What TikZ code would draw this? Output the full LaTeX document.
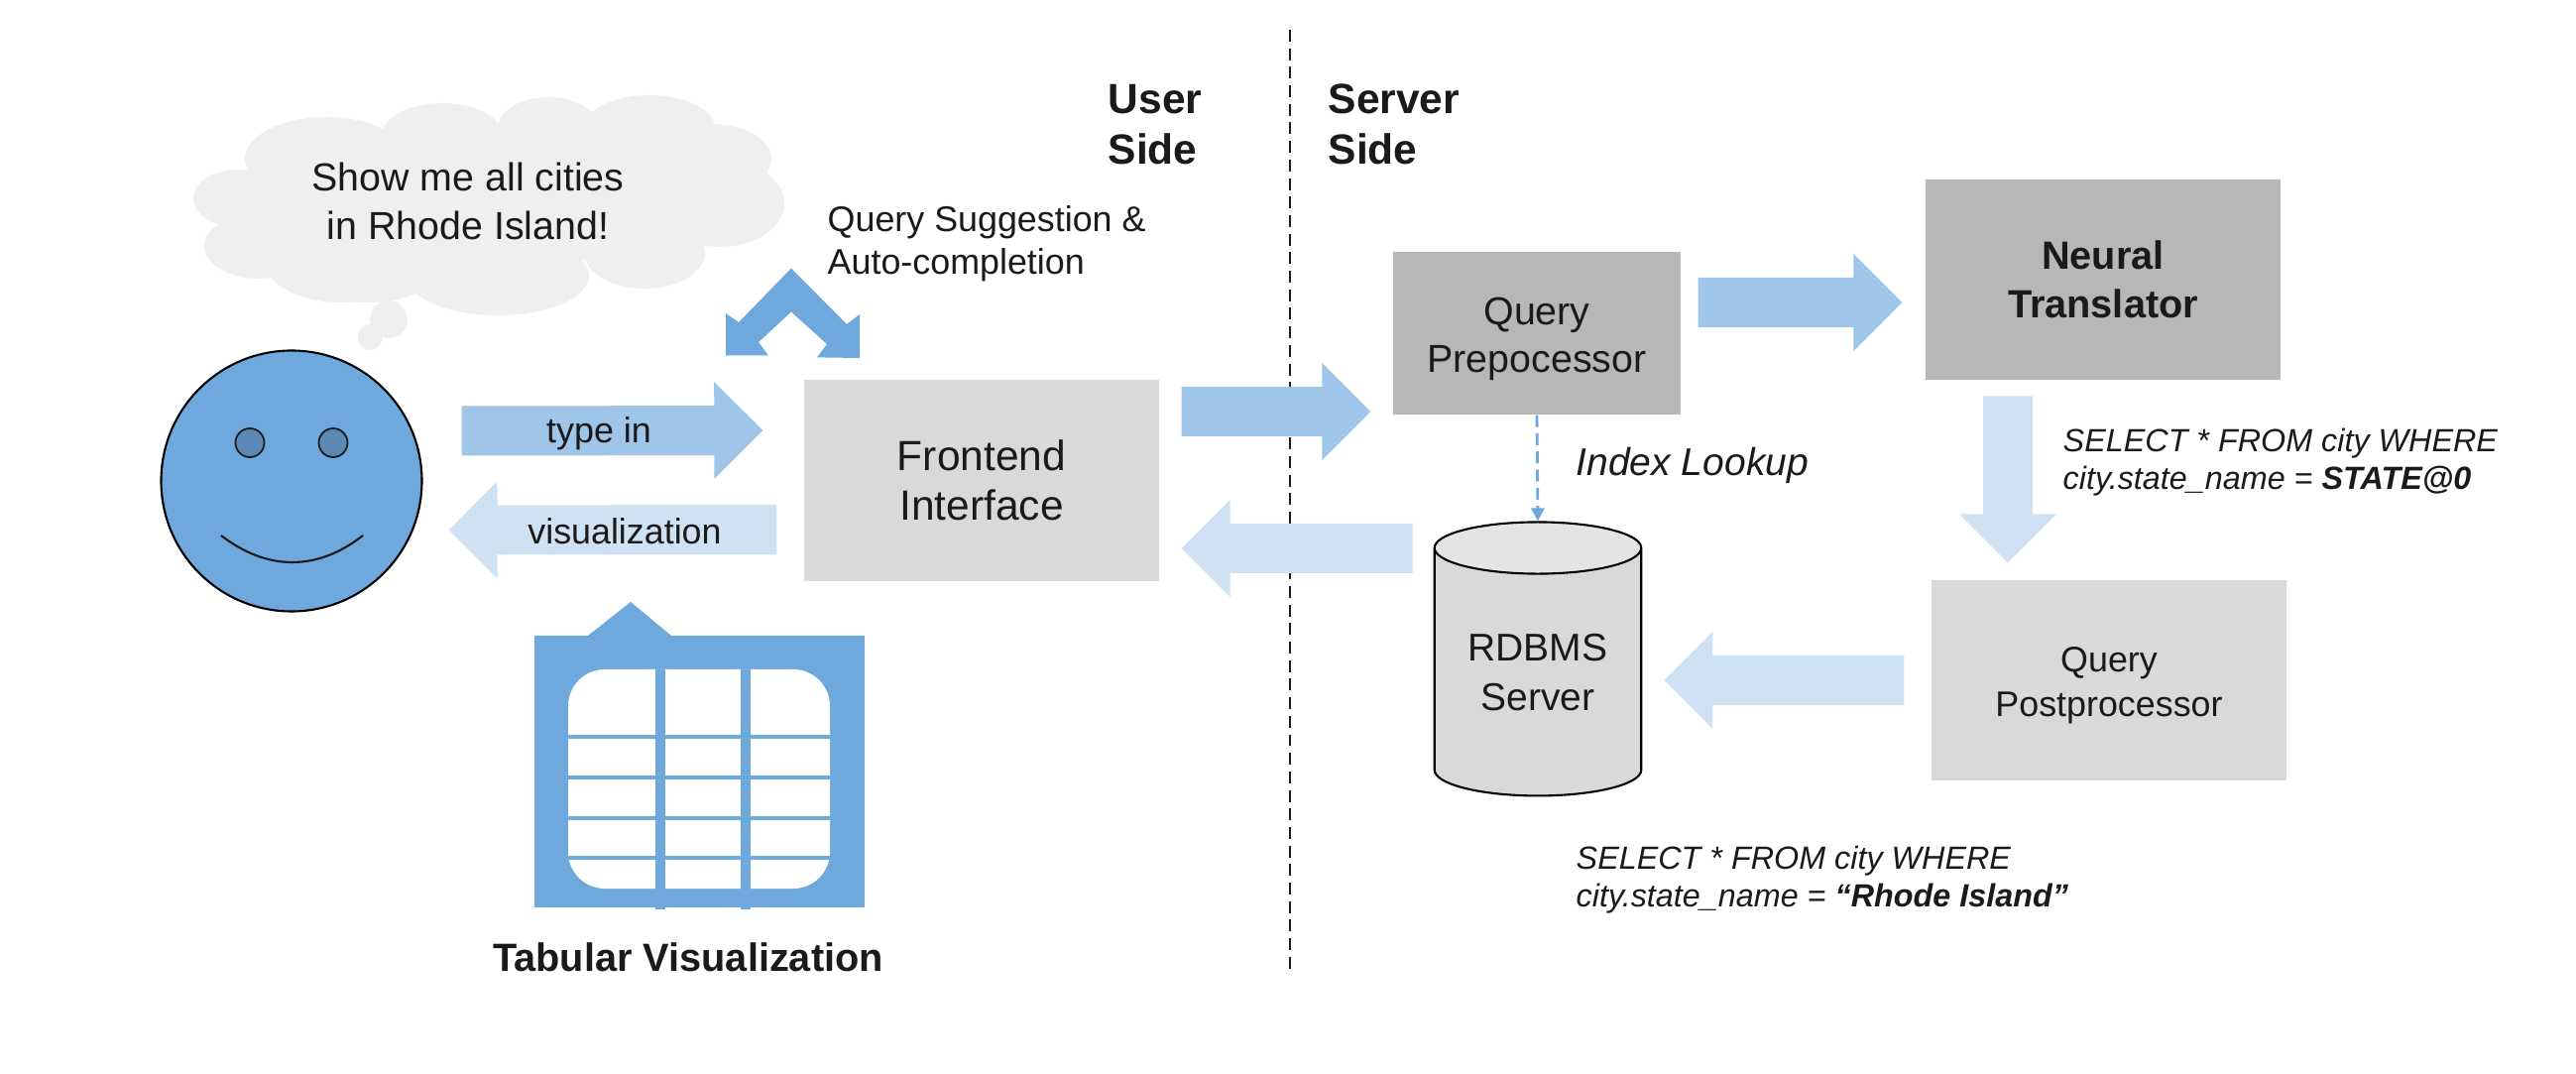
\documentclass[tikz,border=0pt]{standalone}
\usepackage{fontspec}
\setmainfont{Liberation Sans}
\usetikzlibrary{shapes,arrows.meta,positioning,calc}
\definecolor{faceblue}{HTML}{6FA8DC}
\definecolor{eyeblue}{HTML}{5B88B5}
\definecolor{midflow}{HTML}{9FC5E8}
\definecolor{paleflow}{HTML}{CFE2F3}
\definecolor{cloudgray}{HTML}{EFEFEF}
\definecolor{boxlight}{HTML}{D9D9D9}
\definecolor{boxdark}{HTML}{B7B7B7}
\definecolor{ink}{HTML}{1A1A1A}

\begin{document}
\begin{tikzpicture}[
    box/.style={rectangle, align=center, text=ink, inner sep=0pt},
    blockarrow/.style={to path={
        -- ($(\tikztostart)!.25cm!90:(\tikztotarget)$)
        -- ($($(\tikztotarget)!.49cm!(\tikztostart)$)!.25cm!90:(\tikztotarget)$)
        -- ($($(\tikztotarget)!.49cm!(\tikztostart)$)!.49cm!90:(\tikztotarget)$)
        -- (\tikztotarget)
        -- ($($(\tikztotarget)!.49cm!(\tikztostart)$)!.49cm!-90:(\tikztotarget)$)
        -- ($($(\tikztotarget)!.49cm!(\tikztostart)$)!.25cm!-90:(\tikztotarget)$)
        -- ($(\tikztostart)!.25cm!-90:(\tikztotarget)$) -- cycle}},
    lbl/.style={inner sep=0pt, text=ink, align=left, anchor=west},
    fnlarge/.style={font=\fontsize{12.1}{14.2}\selectfont},
    fnmid/.style={font=\fontsize{11.2}{13.7}\selectfont},
    fnsmall/.style={font=\fontsize{10.2}{12.2}\selectfont},
    fnsql/.style={font=\fontsize{9.2}{10.8}\selectfont\itshape}
]
\useasboundingbox (0,0) rectangle (25.98,10.82);

% Divider between the two sides
\coordinate (divTop) at (13.01,10.52);
\coordinate (divBottom) at (13.01,1.03);
\draw[ink, line width=.7pt, dash pattern=on 3.4pt off 1.92pt] (divTop) -- (divBottom);

% Thought cloud
\fill[cloudgray] (2.6,8.2) rectangle (7.0,9.4);
\foreach \cx/\cy/\rx/\ry in {3.29/9.22/.82/.42, 4.46/9.45/.61/.33, 5.53/9.53/.51/.31,
    6.55/9.53/.66/.33, 7.17/9.22/.61/.35, 7.27/8.77/.64/.44, 6.50/8.27/.61/.36,
    5.02/8.04/.92/.40, 3.44/8.19/.77/.42, 3.70/8.07/.70/.30, 2.62/8.34/.56/.33, 2.40/8.82/.45/.29,
    3.92/7.60/.19/.19, 3.73/7.42/.125/.13}
    \fill[cloudgray] (\cx,\cy) ellipse [x radius=\rx, y radius=\ry];
\node[box, fnmid] (thought) at (4.72,8.79) {Show me all cities\\in Rhode Island!};

% User
\node[circle, draw=black, line width=.6pt, fill=faceblue, minimum size=2.63cm, inner sep=0pt] (face) at (2.94,5.97) {};
\node[circle, draw=ink, line width=.5pt, fill=eyeblue, minimum size=.29cm, inner sep=0pt] (eyeL) at (2.52,6.355) {};
\node[circle, draw=ink, line width=.5pt, fill=eyeblue, minimum size=.29cm, inner sep=0pt] (eyeR) at (3.36,6.355) {};
\coordinate (smileL) at (2.23,5.42);
\coordinate (smileR) at (3.66,5.42);
\draw[ink, line width=.6pt] (smileL) .. controls (2.7,5.06) and (3.2,5.06) .. (smileR);

% Boxes
\node[box, fill=boxlight, fnlarge, minimum width=3.58cm, minimum height=2.03cm] (frontend) at (9.90,5.975) {Frontend\\Interface};
\node[box, fill=boxdark, fnmid, minimum width=2.90cm, minimum height=1.64cm] (prepro) at (15.50,7.46) {\rule{0pt}{11pt}Query\\Prepocessor};
\node[box, fill=boxdark, fnmid, minimum width=3.58cm, minimum height=2.015cm, font=\fontsize{11.3}{13.8}\selectfont\bfseries] (neural) at (21.21,8.00) {Neural\\Translator};
\node[box, fill=boxlight, minimum width=3.58cm, minimum height=2.02cm, font=\fontsize{10.2}{12.8}\selectfont] (postpro) at (21.27,3.96) {\rule{0pt}{10.3pt}Query\\Postprocessor};
\node[cylinder, shape border rotate=90, shape aspect=.37, draw=black, line width=.6pt,
    cylinder uses custom fill, cylinder body fill=boxlight, cylinder end fill=boxlight!70!white,
    align=center, text=ink, inner sep=0pt, minimum width=2.085cm, minimum height=2.76cm,
    font=\fontsize{11.1}{14.2}\selectfont] (rdbms) at (15.51,4.04) {RDBMS\\Server};

% Query suggestion chevron
\fill[faceblue] (7.98,8.115) -- (7.45,7.57) -- (7.32,7.66) -- (7.32,7.235) -- (7.75,7.235) -- (7.65,7.37)
    -- (7.98,7.675) -- (8.34,7.35) -- (8.24,7.216) -- (8.67,7.21) -- (8.67,7.65) -- (8.54,7.55) -- cycle;

% Table icon
\fill[faceblue] (5.39,1.67) rectangle (8.72,4.41);
\fill[faceblue] (5.93,4.41) -- (6.36,4.75) -- (6.77,4.41) -- cycle;
\fill[white, rounded corners=.37cm] (5.73,1.86) rectangle (8.37,4.07);
\foreach \bx in {6.61,7.47}
    \fill[faceblue] (\bx,1.65) rectangle ++(.10,2.42);
\foreach \by in {3.39,2.98,2.57,2.17}
    \fill[faceblue] (5.73,\by-.018) rectangle (8.37,\by+.018);

% Block arrows
\fill[midflow] ([xshift=.39cm,yshift=.505cm]face.east) to[blockarrow] ([xshift=-.41cm,yshift=.505cm]frontend.west);
\fill[paleflow] ([xshift=-.27cm,yshift=-.495cm]frontend.west) to[blockarrow] ([xshift=.26cm,yshift=-.495cm]face.east);
\fill[midflow] ([xshift=.22cm,yshift=.695cm]frontend.east) to[blockarrow] ([xshift=-.22cm,yshift=-.79cm]prepro.west);
\fill[midflow] ([xshift=.17cm,yshift=.31cm]prepro.east) to[blockarrow] ([xshift=-.23cm,yshift=-.23cm]neural.west);
\fill[paleflow] ([xshift=-.96cm,yshift=-.16cm]neural.south) to[blockarrow] ([xshift=-1.02cm,yshift=.17cm]postpro.north);
\fill[paleflow] ([xshift=-.21cm,yshift=1.25cm]rdbms.west) to[blockarrow] ([xshift=.22cm,yshift=-.685cm]frontend.east);
\fill[paleflow] ([xshift=-.27cm]postpro.west) to[blockarrow] ([xshift=.22cm,yshift=-.08cm]rdbms.east);
\node[text=ink, fnsmall] (typein) at (6.04,6.445) {type in};
\node[text=ink, fnsmall] (visual) at (6.30,5.46) {visualization};

% Index lookup
\draw[faceblue, line width=.8pt, dash pattern=on 3.4pt off 1.8pt, -{Triangle[length=.13cm,width=.13cm]}] (prepro.south) -- (rdbms.north);

% Labels
\node[lbl, fnsmall] (suggest) at (8.34,8.36) {Query Suggestion \&\\Auto-completion};
\node[lbl, font=\fontsize{12.1}{14.4}\selectfont\bfseries] (userside) at (11.17,9.565) {User\\Side};
\node[lbl, font=\fontsize{12.1}{14.4}\selectfont\bfseries] (serverside) at (13.39,9.565) {Server\\Side};
\node[lbl, font=\fontsize{11.1}{13}\selectfont\itshape] (lookup) at (15.89,6.13) {Index Lookup};
\node[lbl, fnsql] (sqltemplate) at (20.80,6.155) {SELECT * FROM city WHERE\\city.state\_name = \textbf{STATE@0}};
\node[lbl, fnsql] (sqlfinal) at (15.89,1.945) {SELECT * FROM city WHERE\\city.state\_name = \textbf{“Rhode Island”}};
\node[inner sep=0pt, text=ink, font=\fontsize{11.3}{13.7}\selectfont\bfseries] (tabular) at (6.94,1.17) {Tabular Visualization};

\end{tikzpicture}
\end{document}
